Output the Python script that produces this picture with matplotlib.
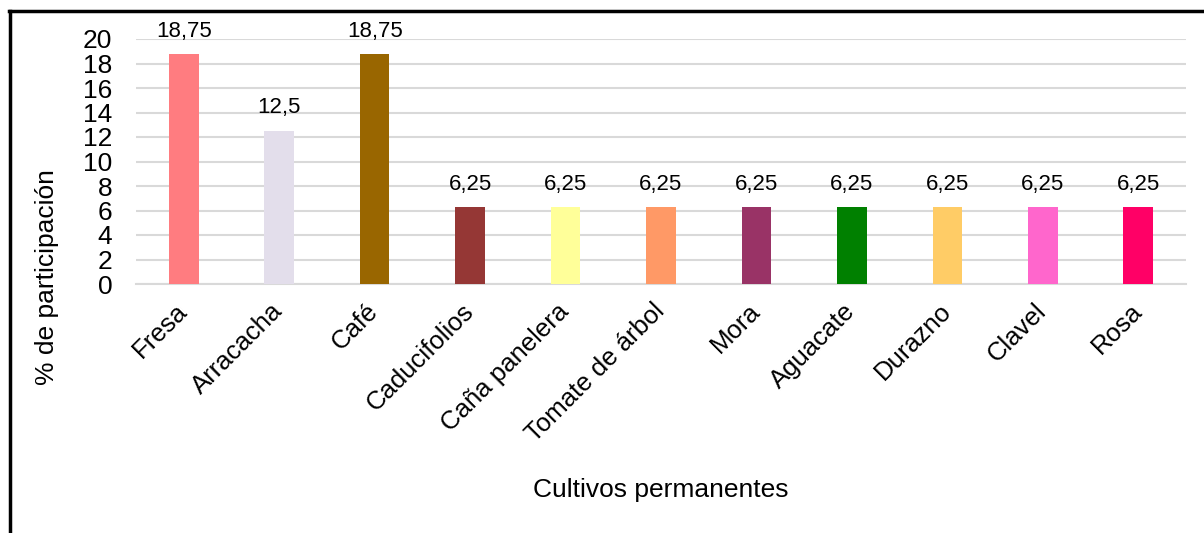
import matplotlib
matplotlib.use("Agg")
import matplotlib.pyplot as plt
from matplotlib.lines import Line2D

categories = ["Fresa", "Arracacha", "Café", "Caducifolios", "Caña panelera",
              "Tomate de árbol", "Mora", "Aguacate", "Durazno", "Clavel", "Rosa"]
values = [18.75, 12.5, 18.75, 6.25, 6.25, 6.25, 6.25, 6.25, 6.25, 6.25, 6.25]
value_labels = ["18,75", "12,5", "18,75", "6,25", "6,25", "6,25", "6,25",
                "6,25", "6,25", "6,25", "6,25"]
bar_colors = ["#FF7C80", "#E3DEEB", "#996600", "#953735", "#FFFF99", "#FF9966",
              "#993366", "#008000", "#FFCC66", "#FF66CC", "#FF0066"]
yticks = [0, 2, 4, 6, 8, 10, 12, 14, 16, 18, 20]

plt.rcParams['font.family'] = ['Liberation Sans', 'DejaVu Sans']

W, H = 1204, 533
fig = plt.figure(figsize=(W / 100, H / 100), dpi=100)
ax = fig.add_axes([136 / W, (H - 284) / H, (1186 - 136) / W, (284 - 39) / H])

x = list(range(len(categories)))
ax.bar(x, values, width=0.31, color=bar_colors, zorder=3)
ax.set_xlim(-0.5, len(categories) - 0.5)
ax.set_ylim(0, 20)
ax.set_yticks(yticks)
ax.set_yticklabels([str(t) for t in yticks], fontsize=19)
ax.yaxis.grid(True, color="#D9D9D9", linewidth=1.5, zorder=0)
ax.set_axisbelow(True)
for s in ["top", "right", "left"]:
    ax.spines[s].set_visible(False)
ax.spines["bottom"].set_color("#D9D9D9")
ax.spines["bottom"].set_linewidth(1.5)
ax.tick_params(axis="both", length=0)
ax.tick_params(axis="y", pad=17)

ax.set_xticks(x)
ax.set_xticklabels(categories, rotation=45, ha="right", va="center",
                   rotation_mode="anchor", fontsize=18.5)
ax.tick_params(axis="x", pad=17)

for xi, v, lab in zip(x, values, value_labels):
    ax.annotate(lab, (xi, v), xytext=(0, 9), textcoords="offset points",
                ha="center", va="bottom", fontsize=16)

fig.text((136 + 1186) / 2 / W, 1 - 490 / H, "Cultivos permanentes",
         ha="center", va="center", fontsize=19)
fig.text(47 / W, 1 - 277 / H, "% de participación", rotation=90,
         ha="center", va="center", fontsize=19)

fig.add_artist(Line2D([9 / W, 1], [1 - 11 / H, 1 - 11 / H], color="black",
                      linewidth=2.5, transform=fig.transFigure))
fig.add_artist(Line2D([9.5 / W, 9.5 / W], [0, 1 - 11 / H], color="black",
                      linewidth=2.5, transform=fig.transFigure))

fig.savefig("out.png", dpi=100, facecolor="white")
